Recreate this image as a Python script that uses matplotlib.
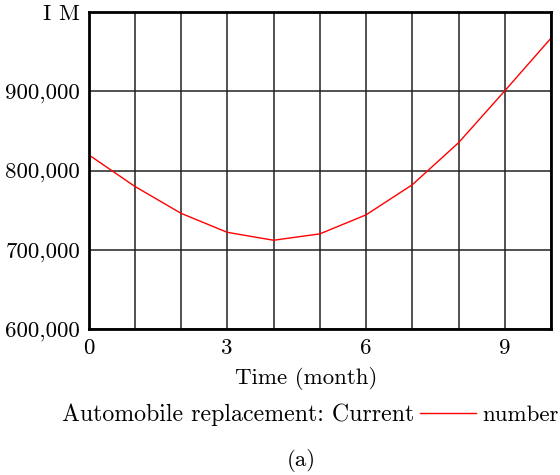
import numpy as np
import matplotlib
matplotlib.use("Agg")
import matplotlib.pyplot as plt

# monthly values
months = [0, 1, 2, 3, 4, 5, 6, 7, 8, 9, 10]
current_number = [820000, 780000, 746000, 722000, 712000, 720000,
                  744000, 782000, 835000, 900500, 967000]

y_ticks = [600000, 700000, 800000, 900000, 1000000]
y_labels = ["600,000", "700,000", "800,000", "900,000", "I M"]
x_ticks = [0, 3, 6, 9]

plt.rcParams['font.family'] = ['cmr10', 'DejaVu Serif']
plt.rcParams['axes.formatter.use_mathtext'] = True
fs = 16.5
fs_leg = 17.2

W, H = 560, 475
fig = plt.figure(figsize=(W/100, H/100), dpi=100)
ax = fig.add_axes([88.5/W, 1 - 329/H, (551 - 88.5)/W, (329 - 12)/H])

line, = ax.plot(months, current_number, color='red', linewidth=1.0)

ax.set_xlim(0, 10)
ax.set_ylim(600000, 1000000)
ax.set_xticks(np.arange(0, 11))
ax.set_xticklabels([str(m) if m in x_ticks else "" for m in range(11)])
ax.set_yticks(y_ticks)
ax.set_yticklabels(y_labels)
ax.tick_params(length=0, labelsize=fs)
ax.tick_params(axis='y', pad=6)
ax.tick_params(axis='x', pad=7)
ax.grid(True, color='#222222', linewidth=1.1)
ax.set_axisbelow(True)
for s in ax.spines.values():
    s.set_linewidth(2.0)
    s.set_color('black')

fig.text(306/W, 1 - 379/H, "Time (month)", ha='center', va='center', fontsize=fs)
fig.text(414/W, 1 - 415/H, "Automobile replacement: Current", ha='right',
         va='center', fontsize=fs_leg)
fig.legend([line], ["number"], loc='center left',
           bbox_to_anchor=(420/W, 1 - 415/H), frameon=False, fontsize=fs,
           handlelength=2.45, handletextpad=0.25, borderpad=0, borderaxespad=0)
fig.text(301/W, 1 - 460/H, "(a)", ha='center', va='center', fontsize=fs)

fig.savefig("out.png", dpi=100)
